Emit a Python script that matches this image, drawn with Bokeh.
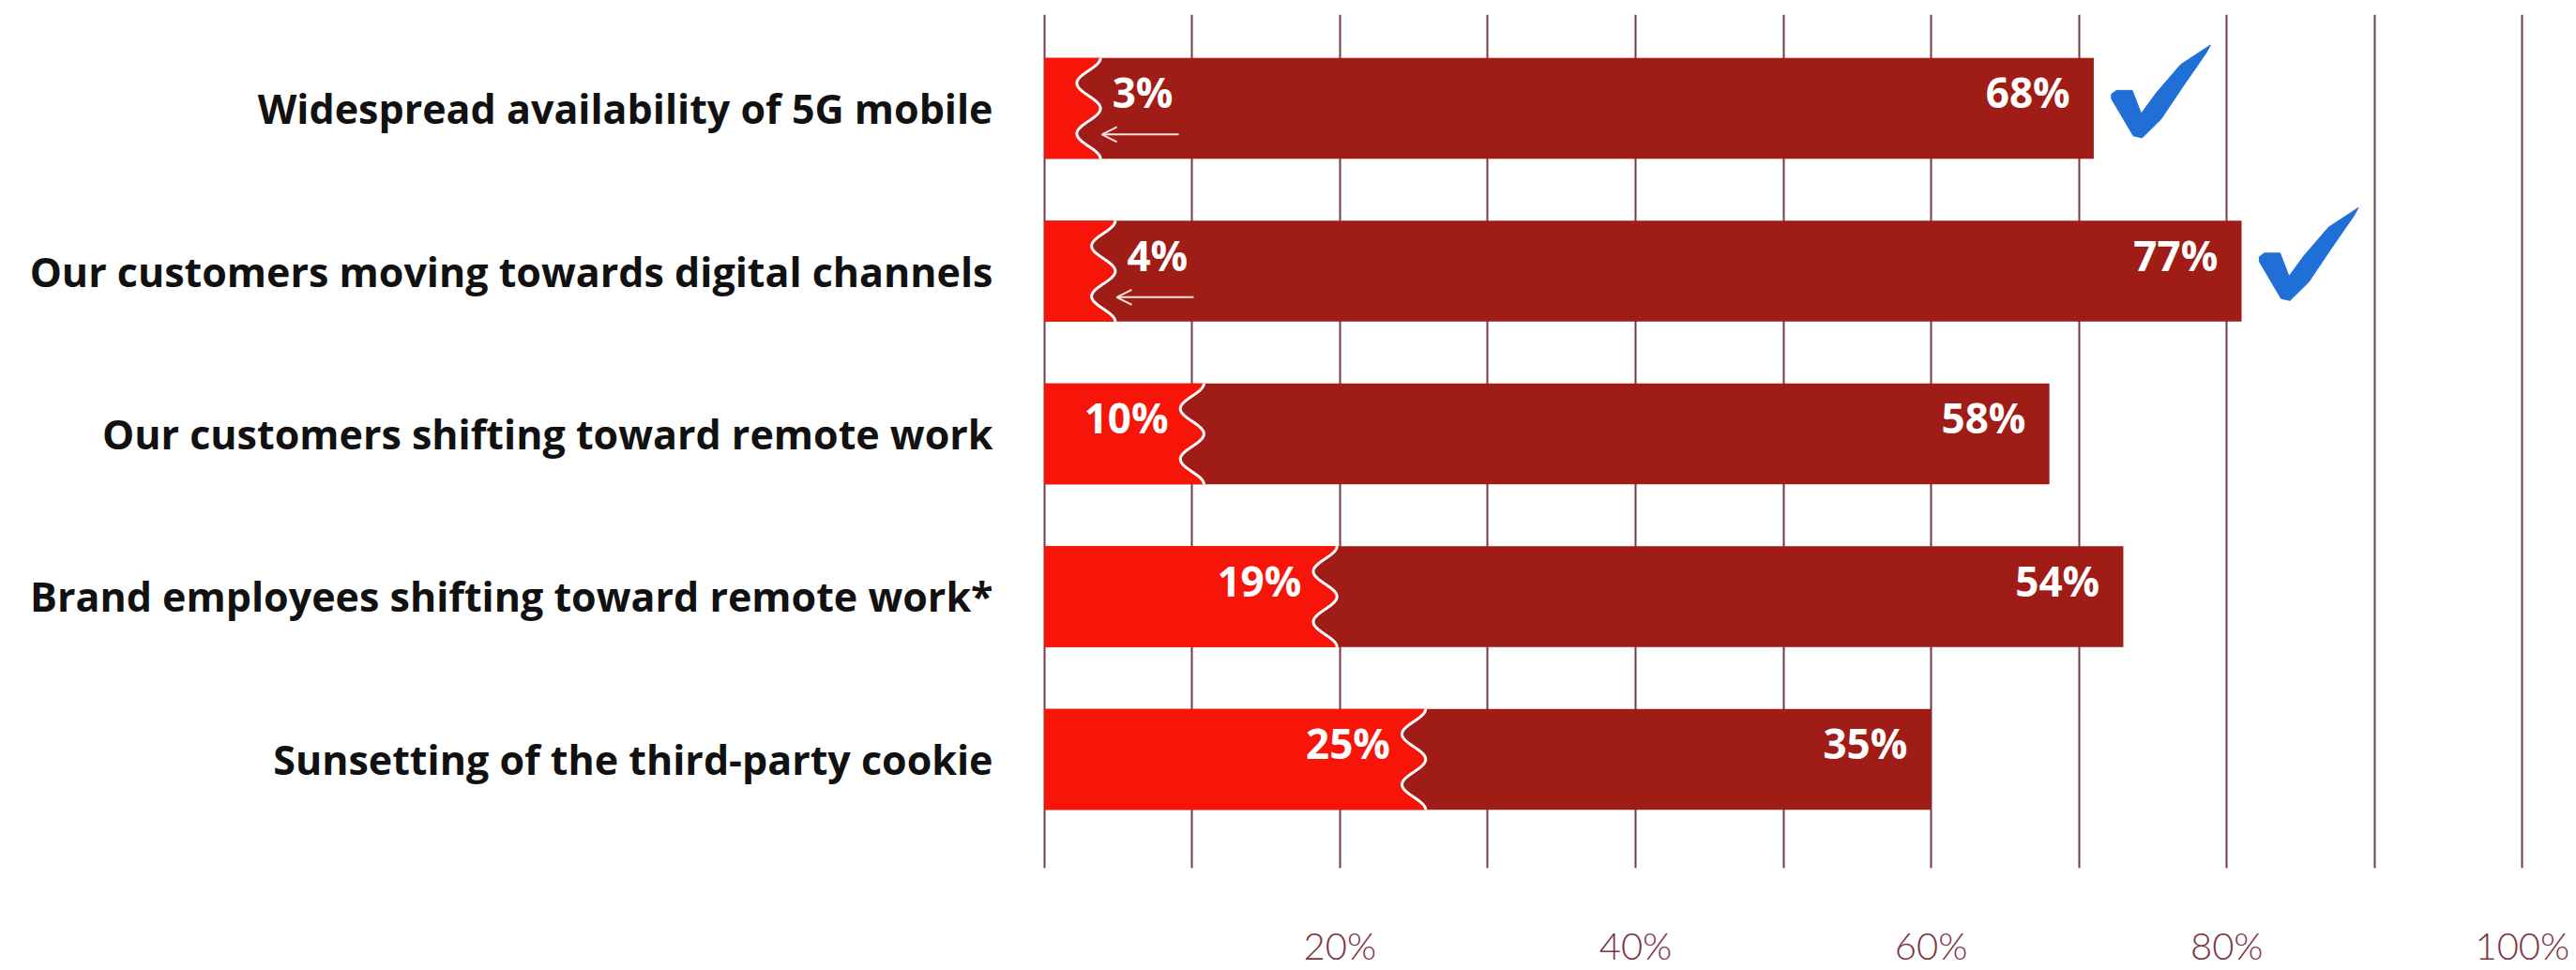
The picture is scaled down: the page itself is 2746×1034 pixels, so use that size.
import numpy as np
from bokeh.plotting import figure
from bokeh.models import ColumnDataSource, Range1d, FixedTicker, Arrow, OpenHead
from bokeh.embed import file_html
from bokeh.resources import INLINE
from bokeh.core.properties import value

# ---------------- data ----------------
categories = [
    "Widespread availability of 5G mobile",
    "Our customers moving towards digital channels",
    "Our customers shifting toward remote work",
    "Brand employees shifting toward remote work*",
    "Sunsetting of the third-party cookie",
]
light_values = [3, 4, 10, 19, 25]
dark_values = [68, 77, 58, 54, 35]
checked = [True, True, False, False, False]
x_ticks = [20, 40, 60, 80, 100]
x_ticklabels = ["20%", "40%", "60%", "80%", "100%"]
grid_ticks = [0, 10, 20, 30, 40, 50, 60, 70, 80, 90, 100]

# ---------------- style ----------------
LIGHT = "#f71408"
DARK = "#a01d17"
BLUE = "#1f6fd6"
GRID = "#743848"
TICKC = "#7e3343"
BAR_H = 0.62
WAVE_A = 0.8
LABEL_DY = -0.1
INSET = 1.6
# normalized checkmark outline (u to the right, v downward)
CHECK_SHAPE = [(0.0, 0.53), (0.05, 0.49), (0.21, 0.49), (0.30, 0.74), (0.45, 0.52),
               (0.70, 0.21), (1.0, 0.0), (0.96, 0.08), (0.72, 0.45), (0.50, 0.80),
               (0.31, 1.0), (0.22, 0.98), (0.0, 0.58)]
CHECK_W, CHECK_H, CHECK_GAP, CHECK_TOP = 6.7, 0.57, 1.2, -0.39

idx = list(range(len(categories)))
totals = [l + d for l, d in zip(light_values, dark_values)]

W, H = 2746, 1034
p = figure(width=W, height=H, output_backend="svg", toolbar_location=None,
           x_range=Range1d(-0.3, 101.5), y_range=Range1d(4.669, -0.577),
           min_border_left=1108, min_border_right=34, min_border_top=15,
           min_border_bottom=101)
p.outline_line_color = None
p.background_fill_color = "white"
p.border_fill_color = "white"

p.xgrid.ticker = FixedTicker(ticks=grid_ticks)
p.xgrid.grid_line_color = GRID
p.xgrid.grid_line_width = 2
p.ygrid.visible = False

# x axis
xa = p.xaxis[0]
xa.ticker = FixedTicker(ticks=x_ticks)
xa.major_label_overrides = {t: s for t, s in zip(x_ticks, x_ticklabels)}
xa.axis_line_color = None
xa.major_tick_line_color = None
xa.minor_tick_line_color = None
xa.major_label_standoff = 52
xa.major_label_text_font = "Lato Light"
xa.major_label_text_font_size = "40px"
xa.major_label_text_color = TICKC

# y axis
ya = p.yaxis[0]
ya.ticker = FixedTicker(ticks=idx)
ya.major_label_overrides = {i: c for i, c in zip(idx, categories)}
ya.axis_line_color = None
ya.major_tick_line_color = None
ya.minor_tick_line_color = None
ya.major_tick_out = 0
ya.major_label_standoff = 50
ya.major_label_text_font = "Open Sans"
ya.major_label_text_font_style = "bold"
ya.major_label_text_font_size = "43px"
ya.major_label_text_color = "#111111"

# dark full bars
p.hbar(y=idx, left=0, right=totals, height=BAR_H, fill_color=DARK, line_color=None)

# light parts with wavy right edge
t = np.linspace(0, 1, 80)
pxs, pys, wxs, wys = [], [], [], []
for i, lv in zip(idx, light_values):
    yy = i - BAR_H / 2 + t * BAR_H
    xx = lv + WAVE_A * np.cos(2 * np.pi * 2 * t)
    pxs.append([0] + list(xx) + [0])
    pys.append([i - BAR_H / 2] + list(yy) + [i + BAR_H / 2])
    wxs.append(list(xx))
    wys.append(list(yy))
p.patches(pxs, pys, fill_color=LIGHT, line_color=None)
p.multi_line(wxs, wys, line_color="white", line_width=3)

# value labels
font = value("Open Sans")
inside = [i for i in idx if light_values[i] >= 10]
outside = [i for i in idx if light_values[i] < 10]
src_in = ColumnDataSource(dict(x=[light_values[i] - INSET for i in inside],
                               y=[i + LABEL_DY for i in inside],
                               t=[f"{light_values[i]}%" for i in inside]))
p.text(x="x", y="y", text="t", source=src_in, text_align="right", text_baseline="middle",
       text_color="white", text_font=font, text_font_style="bold", text_font_size="44px")
src_out = ColumnDataSource(dict(x=[light_values[i] + INSET for i in outside],
                                y=[i + LABEL_DY for i in outside],
                                t=[f"{light_values[i]}%" for i in outside],
                                xs=[light_values[i] + 6.1 for i in outside],
                                xe=[light_values[i] + 0.9 for i in outside],
                                ya=[i + 0.16 for i in outside]))
p.text(x="x", y="y", text="t", source=src_out, text_align="left", text_baseline="middle",
       text_color="white", text_font=font, text_font_style="bold", text_font_size="44px")
p.add_layout(Arrow(end=OpenHead(size=16, line_color="#f6e2de", line_width=2),
                   x_start="xs", y_start="ya", x_end="xe", y_end="ya", source=src_out,
                   line_color="#f6e2de", line_width=2))
src_dark = ColumnDataSource(dict(x=[tt - INSET for tt in totals],
                                 y=[i + LABEL_DY for i in idx],
                                 t=[f"{d}%" for d in dark_values]))
p.text(x="x", y="y", text="t", source=src_dark, text_align="right", text_baseline="middle",
       text_color="white", text_font=font, text_font_style="bold", text_font_size="44px")

# checkmarks
cxs, cys = [], []
for i in idx:
    if checked[i]:
        x0 = totals[i] + CHECK_GAP
        y0 = i + CHECK_TOP
        cxs.append([x0 + u * CHECK_W for u, v in CHECK_SHAPE])
        cys.append([y0 + v * CHECK_H for u, v in CHECK_SHAPE])
p.patches(cxs, cys, fill_color=BLUE, line_color=BLUE, line_width=1)

open("out.html", "w").write(file_html(p, INLINE))
